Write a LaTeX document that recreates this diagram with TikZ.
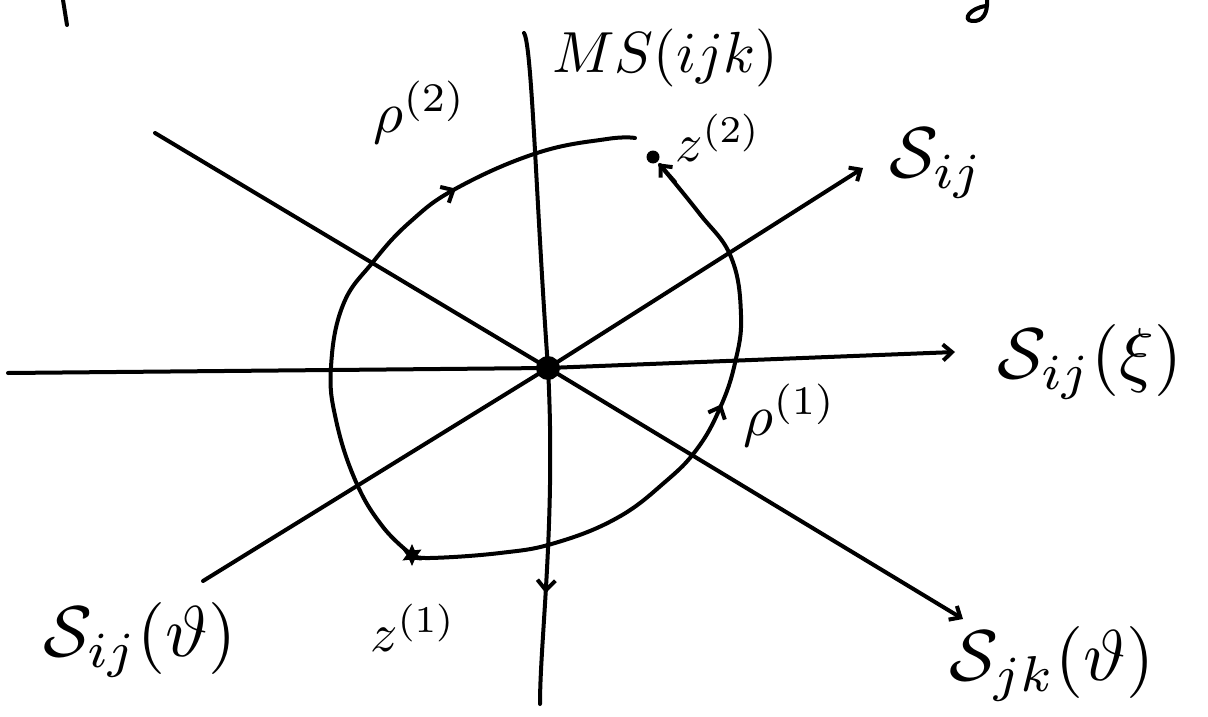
\documentclass[tikz,border=0pt]{standalone}
\usetikzlibrary{arrows.meta,decorations.markings,shapes.geometric}
\begin{document}
\begin{tikzpicture}[x=1pt,y=-1pt, line width=4pt, line cap=round, line join=round,
  tipend/.style={-{Straight Barb[length=9pt,width=16pt]}},
  midarrow/.style={postaction={decorate},decoration={markings,mark=at position #1 with {\arrow{Straight Barb[length=10pt,width=18pt]}}}},
  bigS/.style={scale=7.2, inner sep=0pt},
  lbl/.style={scale=5.8, inner sep=0pt},
  zlbl/.style={scale=5.4, inner sep=0pt},
  dotpt/.style={circle,fill,inner sep=0pt}
]
\useasboundingbox (0,0) rectangle (1208,717);

% points
\node[dotpt,minimum size=24pt] (O) at (548,368) {};
\node[dotpt,minimum size=13pt] (z2) at (653,157) {};
\node[star,star points=6,star point ratio=2,fill,minimum size=22pt,inner sep=0pt] (z1) at (412,555) {};

% axis ends
\coordinate (Hl) at (8,373);
\coordinate (Hr) at (955,352);
\coordinate (Vt) at (524,33);
\coordinate (Vb) at (540,704);
\coordinate (Aul) at (155,133);
\coordinate (Alr) at (963,619);
\coordinate (Bll) at (203,581);
\coordinate (Bur) at (863,168);

% lines through the centre
\draw (Hl) -- (O.center);
\draw[tipend] (O.center) -- (Hr);
\draw (Vt) .. controls (532,45) and (536,200) .. (O.center);
\draw[midarrow=0.67] (O.center) .. controls (556,520) and (540,640) .. (Vb);
\draw (Aul) -- (O.center);
\draw[tipend] (O.center) -- (Alr);
\draw (Bll) -- (O.center);
\draw[tipend] (O.center) -- (Bur);

% paths from z1
\draw[midarrow=0.7] plot[smooth,tension=0.7] coordinates {(z1) (383,527) (356,482) (336,420) (331,367) (343,305) (373,262) (410,222) (457,188) (537,153) (607,139) (635,138)};
\draw[midarrow=0.58] plot[smooth,tension=0.7] coordinates {(z1) (430,558) (500,553) (555,543) (617,518) (665,482) (697,449) (720,408) (735,363) (741,315) (731,257) (699,213) (660,165)};
\draw[tipend] (675,182) -- (z2);

% labels
\node[lbl] (ms) at (665,58) {$MS(ijk)$};
\node[lbl] (rho2) at (420,112) {$\rho^{(2)}$};
\node[zlbl] (z2l) at (718,138) {$z^{(2)}$};
\node[bigS] (sij) at (937,163) {$\mathcal{S}_{ij}$};
\node[bigS] (sijx) at (1090,362) {$\mathcal{S}_{ij}(\xi)$};
\node[lbl] (rho1) at (790,415) {$\rho^{(1)}$};
\node[bigS] (sijt) at (140,640) {$\mathcal{S}_{ij}(\vartheta)$};
\node[zlbl] (z1l) at (413,628) {$z^{(1)}$};
\node[bigS] (sjk) at (1052,664) {$\mathcal{S}_{jk}(\vartheta)$};

% fragments at the top edge
\draw (63,0) -- (67,25);
\draw (987,0) .. controls (988,14) and (982,22) .. (972,21) .. controls (962,20) and (970,8) .. (986,6);
\end{tikzpicture}
\end{document}
